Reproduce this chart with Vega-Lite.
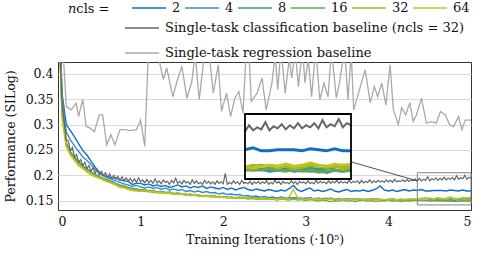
{
  "$schema": "https://vega.github.io/schema/vega-lite/v6.json",
  "width": 413,
  "height": 148,
  "autosize": {"type": "none"},
  "padding": {"left": 58, "top": 62, "right": 9, "bottom": 47},
  "config": {
    "font": "DejaVu Serif",
    "view": {"stroke": "#333333", "strokeWidth": 1},
    "axis": {"domain": false, "ticks": false, "labelFont": "DejaVu Serif", "titleFont": "DejaVu Serif", "labelFontSize": 12.5, "titleFontSize": 12.5, "titleFontWeight": "normal", "labelColor": "#111111", "titleColor": "#111111", "gridColor": "#d9d9d9", "gridWidth": 1},
    "legend": {"labelFont": "DejaVu Serif", "titleFont": "DejaVu Serif", "labelFontSize": 13, "titleFontSize": 13, "titleFontWeight": "normal", "labelColor": "#111111", "titleColor": "#111111", "symbolStrokeWidth": 1.6, "symbolSize": 1156, "labelOffset": 5, "labelLimit": 500}
  },
  "datasets": {
    "runs": [
      {"x":0,"n2":0.60,"n4":0.58,"n8":0.55,"n16":0.54,"n32":0.55,"n64":0.56},
      {"x":0.05,"n2":0.36,"n4":0.35,"n8":0.33,"n16":0.32,"n32":0.32,"n64":0.31},
      {"x":0.1,"n2":0.300,"n4":0.285,"n8":0.265,"n16":0.258,"n32":0.260,"n64":0.256},
      {"x":0.15,"n2":0.288,"n4":0.270,"n8":0.246,"n16":0.243,"n32":0.241,"n64":0.240},
      {"x":0.2,"n2":0.276,"n4":0.258,"n8":0.236,"n16":0.233,"n32":0.231,"n64":0.229},
      {"x":0.25,"n2":0.262,"n4":0.247,"n8":0.227,"n16":0.225,"n32":0.222,"n64":0.219},
      {"x":0.3,"n2":0.249,"n4":0.236,"n8":0.219,"n16":0.217,"n32":0.215,"n64":0.213},
      {"x":0.35,"n2":0.240,"n4":0.229,"n8":0.213,"n16":0.211,"n32":0.208,"n64":0.206},
      {"x":0.4,"n2":0.228,"n4":0.221,"n8":0.207,"n16":0.206,"n32":0.203,"n64":0.201},
      {"x":0.45,"n2":0.216,"n4":0.212,"n8":0.202,"n16":0.201,"n32":0.199,"n64":0.197},
      {"x":0.5,"n2":0.206,"n4":0.204,"n8":0.198,"n16":0.197,"n32":0.196,"n64":0.194},
      {"x":0.55,"n2":0.200,"n4":0.199,"n8":0.194,"n16":0.193,"n32":0.192,"n64":0.190},
      {"x":0.6,"n2":0.197,"n4":0.195,"n8":0.191,"n16":0.190,"n32":0.188,"n64":0.187},
      {"x":0.65,"n2":0.195,"n4":0.192,"n8":0.188,"n16":0.186,"n32":0.185,"n64":0.184},
      {"x":0.7,"n2":0.194,"n4":0.189,"n8":0.184,"n16":0.183,"n32":0.182,"n64":0.180},
      {"x":0.75,"n2":0.191,"n4":0.186,"n8":0.181,"n16":0.180,"n32":0.179,"n64":0.176},
      {"x":0.8,"n2":0.189,"n4":0.183,"n8":0.179,"n16":0.177,"n32":0.176,"n64":0.175},
      {"x":0.85,"n2":0.188,"n4":0.181,"n8":0.176,"n16":0.175,"n32":0.174,"n64":0.172},
      {"x":0.9,"n2":0.182,"n4":0.178,"n8":0.174,"n16":0.173,"n32":0.172,"n64":0.170},
      {"x":0.95,"n2":0.184,"n4":0.180,"n8":0.173,"n16":0.171,"n32":0.171,"n64":0.169},
      {"x":1.0,"n2":0.184,"n4":0.177,"n8":0.171,"n16":0.170,"n32":0.169,"n64":0.168},
      {"x":1.05,"n2":0.181,"n4":0.175,"n8":0.172,"n16":0.168,"n32":0.171,"n64":0.170},
      {"x":1.1,"n2":0.183,"n4":0.177,"n8":0.169,"n16":0.169,"n32":0.168,"n64":0.167},
      {"x":1.15,"n2":0.179,"n4":0.174,"n8":0.170,"n16":0.166,"n32":0.169,"n64":0.168},
      {"x":1.2,"n2":0.181,"n4":0.176,"n8":0.167,"n16":0.167,"n32":0.166,"n64":0.165},
      {"x":1.25,"n2":0.178,"n4":0.172,"n8":0.168,"n16":0.165,"n32":0.167,"n64":0.166},
      {"x":1.3,"n2":0.180,"n4":0.175,"n8":0.166,"n16":0.166,"n32":0.165,"n64":0.164},
      {"x":1.35,"n2":0.176,"n4":0.171,"n8":0.167,"n16":0.164,"n32":0.166,"n64":0.165},
      {"x":1.4,"n2":0.178,"n4":0.173,"n8":0.164,"n16":0.163,"n32":0.164,"n64":0.163},
      {"x":1.45,"n2":0.181,"n4":0.170,"n8":0.165,"n16":0.164,"n32":0.163,"n64":0.162},
      {"x":1.5,"n2":0.177,"n4":0.172,"n8":0.163,"n16":0.162,"n32":0.164,"n64":0.163},
      {"x":1.55,"n2":0.179,"n4":0.168,"n8":0.161,"n16":0.163,"n32":0.162,"n64":0.161},
      {"x":1.6,"n2":0.175,"n4":0.170,"n8":0.163,"n16":0.160,"n32":0.161,"n64":0.160},
      {"x":1.65,"n2":0.178,"n4":0.167,"n8":0.160,"n16":0.161,"n32":0.162,"n64":0.161},
      {"x":1.7,"n2":0.176,"n4":0.169,"n8":0.161,"n16":0.159,"n32":0.160,"n64":0.159},
      {"x":1.75,"n2":0.179,"n4":0.166,"n8":0.159,"n16":0.160,"n32":0.159,"n64":0.158},
      {"x":1.8,"n2":0.174,"n4":0.168,"n8":0.160,"n16":0.158,"n32":0.160,"n64":0.159},
      {"x":1.85,"n2":0.177,"n4":0.165,"n8":0.158,"n16":0.159,"n32":0.158,"n64":0.157},
      {"x":1.9,"n2":0.175,"n4":0.166,"n8":0.159,"n16":0.157,"n32":0.159,"n64":0.158},
      {"x":1.95,"n2":0.173,"n4":0.163,"n8":0.157,"n16":0.158,"n32":0.157,"n64":0.156},
      {"x":2.0,"n2":0.176,"n4":0.165,"n8":0.158,"n16":0.156,"n32":0.158,"n64":0.157},
      {"x":2.05,"n2":0.172,"n4":0.162,"n8":0.156,"n16":0.157,"n32":0.156,"n64":0.155},
      {"x":2.1,"n2":0.175,"n4":0.163,"n8":0.157,"n16":0.155,"n32":0.157,"n64":0.156},
      {"x":2.15,"n2":0.171,"n4":0.161,"n8":0.155,"n16":0.156,"n32":0.155,"n64":0.154},
      {"x":2.2,"n2":0.174,"n4":0.162,"n8":0.157,"n16":0.154,"n32":0.156,"n64":0.155},
      {"x":2.25,"n2":0.176,"n4":0.159,"n8":0.155,"n16":0.155,"n32":0.154,"n64":0.157},
      {"x":2.3,"n2":0.172,"n4":0.160,"n8":0.156,"n16":0.153,"n32":0.156,"n64":0.154},
      {"x":2.35,"n2":0.170,"n4":0.158,"n8":0.154,"n16":0.155,"n32":0.155,"n64":0.153},
      {"x":2.4,"n2":0.173,"n4":0.159,"n8":0.156,"n16":0.153,"n32":0.153,"n64":0.155},
      {"x":2.45,"n2":0.171,"n4":0.157,"n8":0.155,"n16":0.152,"n32":0.155,"n64":0.153},
      {"x":2.5,"n2":0.169,"n4":0.158,"n8":0.154,"n16":0.154,"n32":0.154,"n64":0.152},
      {"x":2.55,"n2":0.172,"n4":0.156,"n8":0.156,"n16":0.152,"n32":0.152,"n64":0.154},
      {"x":2.6,"n2":0.170,"n4":0.157,"n8":0.154,"n16":0.153,"n32":0.154,"n64":0.153},
      {"x":2.65,"n2":0.168,"n4":0.155,"n8":0.155,"n16":0.151,"n32":0.153,"n64":0.152},
      {"x":2.7,"n2":0.171,"n4":0.157,"n8":0.153,"n16":0.153,"n32":0.155,"n64":0.154},
      {"x":2.75,"n2":0.169,"n4":0.155,"n8":0.155,"n16":0.152,"n32":0.153,"n64":0.153},
      {"x":2.8,"n2":0.174,"n4":0.156,"n8":0.154,"n16":0.151,"n32":0.154,"n64":0.158},
      {"x":2.85,"n2":0.180,"n4":0.154,"n8":0.156,"n16":0.153,"n32":0.152,"n64":0.172},
      {"x":2.9,"n2":0.171,"n4":0.156,"n8":0.154,"n16":0.151,"n32":0.154,"n64":0.156},
      {"x":2.95,"n2":0.168,"n4":0.155,"n8":0.153,"n16":0.152,"n32":0.153,"n64":0.153},
      {"x":3.0,"n2":0.172,"n4":0.154,"n8":0.155,"n16":0.150,"n32":0.152,"n64":0.152},
      {"x":3.05,"n2":0.175,"n4":0.156,"n8":0.153,"n16":0.152,"n32":0.154,"n64":0.154},
      {"x":3.1,"n2":0.169,"n4":0.153,"n8":0.154,"n16":0.151,"n32":0.153,"n64":0.152},
      {"x":3.15,"n2":0.171,"n4":0.155,"n8":0.152,"n16":0.149,"n32":0.155,"n64":0.153},
      {"x":3.2,"n2":0.168,"n4":0.154,"n8":0.154,"n16":0.151,"n32":0.153,"n64":0.151},
      {"x":3.25,"n2":0.170,"n4":0.153,"n8":0.155,"n16":0.150,"n32":0.152,"n64":0.153},
      {"x":3.3,"n2":0.173,"n4":0.155,"n8":0.153,"n16":0.148,"n32":0.154,"n64":0.152},
      {"x":3.35,"n2":0.169,"n4":0.153,"n8":0.154,"n16":0.150,"n32":0.152,"n64":0.154},
      {"x":3.4,"n2":0.167,"n4":0.154,"n8":0.152,"n16":0.149,"n32":0.153,"n64":0.152},
      {"x":3.45,"n2":0.170,"n4":0.152,"n8":0.153,"n16":0.151,"n32":0.151,"n64":0.151},
      {"x":3.5,"n2":0.172,"n4":0.154,"n8":0.154,"n16":0.149,"n32":0.153,"n64":0.153},
      {"x":3.55,"n2":0.168,"n4":0.153,"n8":0.152,"n16":0.150,"n32":0.152,"n64":0.152},
      {"x":3.6,"n2":0.170,"n4":0.152,"n8":0.153,"n16":0.148,"n32":0.154,"n64":0.151},
      {"x":3.65,"n2":0.169,"n4":0.154,"n8":0.151,"n16":0.150,"n32":0.152,"n64":0.153},
      {"x":3.7,"n2":0.171,"n4":0.152,"n8":0.153,"n16":0.151,"n32":0.151,"n64":0.152},
      {"x":3.75,"n2":0.168,"n4":0.153,"n8":0.152,"n16":0.149,"n32":0.153,"n64":0.154},
      {"x":3.8,"n2":0.170,"n4":0.151,"n8":0.154,"n16":0.150,"n32":0.152,"n64":0.152},
      {"x":3.85,"n2":0.173,"n4":0.153,"n8":0.152,"n16":0.148,"n32":0.154,"n64":0.151},
      {"x":3.9,"n2":0.179,"n4":0.152,"n8":0.153,"n16":0.150,"n32":0.152,"n64":0.153},
      {"x":3.95,"n2":0.171,"n4":0.151,"n8":0.151,"n16":0.149,"n32":0.151,"n64":0.152},
      {"x":4.0,"n2":0.169,"n4":0.153,"n8":0.152,"n16":0.151,"n32":0.153,"n64":0.151},
      {"x":4.05,"n2":0.171,"n4":0.151,"n8":0.154,"n16":0.149,"n32":0.152,"n64":0.153},
      {"x":4.1,"n2":0.168,"n4":0.152,"n8":0.152,"n16":0.150,"n32":0.151,"n64":0.152},
      {"x":4.15,"n2":0.170,"n4":0.150,"n8":0.153,"n16":0.148,"n32":0.153,"n64":0.151},
      {"x":4.2,"n2":0.172,"n4":0.152,"n8":0.151,"n16":0.150,"n32":0.152,"n64":0.153},
      {"x":4.25,"n2":0.169,"n4":0.151,"n8":0.152,"n16":0.149,"n32":0.154,"n64":0.152},
      {"x":4.3,"n2":0.171,"n4":0.150,"n8":0.153,"n16":0.151,"n32":0.152,"n64":0.154},
      {"x":4.35,"n2":0.170,"n4":0.151,"n8":0.151,"n16":0.150,"n32":0.153,"n64":0.153},
      {"x":4.4,"n2":0.172,"n4":0.150,"n8":0.153,"n16":0.151,"n32":0.155,"n64":0.152},
      {"x":4.45,"n2":0.169,"n4":0.151,"n8":0.155,"n16":0.150,"n32":0.154,"n64":0.154},
      {"x":4.5,"n2":0.169,"n4":0.149,"n8":0.153,"n16":0.152,"n32":0.155,"n64":0.155},
      {"x":4.55,"n2":0.170,"n4":0.150,"n8":0.154,"n16":0.150,"n32":0.153,"n64":0.154},
      {"x":4.6,"n2":0.170,"n4":0.151,"n8":0.152,"n16":0.149,"n32":0.154,"n64":0.156},
      {"x":4.65,"n2":0.170,"n4":0.149,"n8":0.153,"n16":0.151,"n32":0.152,"n64":0.154},
      {"x":4.7,"n2":0.169,"n4":0.150,"n8":0.151,"n16":0.149,"n32":0.153,"n64":0.155},
      {"x":4.75,"n2":0.171,"n4":0.149,"n8":0.152,"n16":0.150,"n32":0.155,"n64":0.157},
      {"x":4.8,"n2":0.170,"n4":0.150,"n8":0.151,"n16":0.148,"n32":0.154,"n64":0.155},
      {"x":4.85,"n2":0.169,"n4":0.148,"n8":0.152,"n16":0.149,"n32":0.153,"n64":0.154},
      {"x":4.9,"n2":0.171,"n4":0.150,"n8":0.153,"n16":0.150,"n32":0.154,"n64":0.156},
      {"x":4.95,"n2":0.169,"n4":0.149,"n8":0.155,"n16":0.149,"n32":0.152,"n64":0.155},
      {"x":5.0,"n2":0.169,"n4":0.150,"n8":0.154,"n16":0.151,"n32":0.153,"n64":0.156}
    ],
    "cls": [
      {"x":0,"v":0.60},{"x":0.025,"v":0.44},{"x":0.05,"v":0.335},{"x":0.075,"v":0.305},{"x":0.1,"v":0.27},
      {"x":0.125,"v":0.268},{"x":0.15,"v":0.248},{"x":0.175,"v":0.255},{"x":0.2,"v":0.236},{"x":0.225,"v":0.241},
      {"x":0.25,"v":0.226},{"x":0.275,"v":0.231},{"x":0.3,"v":0.219},{"x":0.325,"v":0.226},{"x":0.35,"v":0.213},
      {"x":0.375,"v":0.219},{"x":0.4,"v":0.208},{"x":0.425,"v":0.215},{"x":0.45,"v":0.204},{"x":0.475,"v":0.211},
      {"x":0.5,"v":0.201},{"x":0.525,"v":0.208},{"x":0.55,"v":0.199},{"x":0.575,"v":0.205},{"x":0.6,"v":0.196},
      {"x":0.625,"v":0.203},{"x":0.65,"v":0.194},{"x":0.675,"v":0.200},{"x":0.7,"v":0.193},{"x":0.725,"v":0.198},
      {"x":0.75,"v":0.190},{"x":0.775,"v":0.197},{"x":0.8,"v":0.189},{"x":0.825,"v":0.195},{"x":0.85,"v":0.188},
      {"x":0.875,"v":0.194},{"x":0.9,"v":0.187},{"x":0.925,"v":0.193},{"x":0.95,"v":0.186},{"x":0.975,"v":0.195},
      {"x":1.0,"v":0.187},{"x":1.025,"v":0.191},{"x":1.05,"v":0.185},{"x":1.075,"v":0.192},{"x":1.1,"v":0.186},
      {"x":1.125,"v":0.190},{"x":1.15,"v":0.184},{"x":1.175,"v":0.193},{"x":1.2,"v":0.185},{"x":1.225,"v":0.189},
      {"x":1.25,"v":0.183},{"x":1.275,"v":0.191},{"x":1.3,"v":0.186},{"x":1.325,"v":0.188},{"x":1.35,"v":0.182},
      {"x":1.375,"v":0.190},{"x":1.4,"v":0.185},{"x":1.425,"v":0.194},{"x":1.45,"v":0.184},{"x":1.475,"v":0.188},
      {"x":1.5,"v":0.183},{"x":1.525,"v":0.190},{"x":1.55,"v":0.185},{"x":1.575,"v":0.187},{"x":1.6,"v":0.182},
      {"x":1.625,"v":0.191},{"x":1.65,"v":0.184},{"x":1.675,"v":0.189},{"x":1.7,"v":0.183},{"x":1.725,"v":0.186},
      {"x":1.75,"v":0.182},{"x":1.775,"v":0.190},{"x":1.8,"v":0.184},{"x":1.825,"v":0.188},{"x":1.85,"v":0.183},
      {"x":1.875,"v":0.187},{"x":1.9,"v":0.182},{"x":1.925,"v":0.189},{"x":1.95,"v":0.184},{"x":1.975,"v":0.187},
      {"x":2.0,"v":0.183},{"x":2.025,"v":0.204},{"x":2.05,"v":0.182},{"x":2.075,"v":0.186},{"x":2.1,"v":0.183},
      {"x":2.125,"v":0.189},{"x":2.15,"v":0.184},{"x":2.175,"v":0.187},{"x":2.2,"v":0.182},{"x":2.225,"v":0.190},
      {"x":2.25,"v":0.184},{"x":2.275,"v":0.186},{"x":2.3,"v":0.183},{"x":2.325,"v":0.188},{"x":2.35,"v":0.182},
      {"x":2.375,"v":0.187},{"x":2.4,"v":0.184},{"x":2.425,"v":0.188},{"x":2.45,"v":0.183},{"x":2.475,"v":0.187},
      {"x":2.5,"v":0.184},{"x":2.525,"v":0.189},{"x":2.55,"v":0.182},{"x":2.575,"v":0.186},{"x":2.6,"v":0.183},
      {"x":2.625,"v":0.190},{"x":2.65,"v":0.185},{"x":2.675,"v":0.187},{"x":2.7,"v":0.182},{"x":2.725,"v":0.188},
      {"x":2.75,"v":0.184},{"x":2.775,"v":0.186},{"x":2.8,"v":0.183},{"x":2.825,"v":0.189},{"x":2.85,"v":0.184},
      {"x":2.875,"v":0.187},{"x":2.9,"v":0.182},{"x":2.925,"v":0.188},{"x":2.95,"v":0.185},{"x":2.975,"v":0.187},
      {"x":3.0,"v":0.183},{"x":3.025,"v":0.189},{"x":3.05,"v":0.184},{"x":3.075,"v":0.186},{"x":3.1,"v":0.183},
      {"x":3.125,"v":0.190},{"x":3.15,"v":0.184},{"x":3.175,"v":0.188},{"x":3.2,"v":0.185},{"x":3.225,"v":0.187},
      {"x":3.25,"v":0.183},{"x":3.275,"v":0.189},{"x":3.3,"v":0.184},{"x":3.325,"v":0.188},{"x":3.35,"v":0.185},
      {"x":3.375,"v":0.190},{"x":3.4,"v":0.184},{"x":3.425,"v":0.188},{"x":3.45,"v":0.185},{"x":3.475,"v":0.187},
      {"x":3.5,"v":0.184},{"x":3.525,"v":0.190},{"x":3.55,"v":0.185},{"x":3.575,"v":0.188},{"x":3.6,"v":0.186},
      {"x":3.625,"v":0.189},{"x":3.65,"v":0.184},{"x":3.675,"v":0.190},{"x":3.7,"v":0.185},{"x":3.725,"v":0.188},
      {"x":3.75,"v":0.186},{"x":3.775,"v":0.191},{"x":3.8,"v":0.185},{"x":3.825,"v":0.189},{"x":3.85,"v":0.186},
      {"x":3.875,"v":0.190},{"x":3.9,"v":0.187},{"x":3.925,"v":0.189},{"x":3.95,"v":0.186},{"x":3.975,"v":0.191},
      {"x":4.0,"v":0.187},{"x":4.025,"v":0.190},{"x":4.05,"v":0.186},{"x":4.075,"v":0.192},{"x":4.1,"v":0.187},
      {"x":4.125,"v":0.189},{"x":4.15,"v":0.188},{"x":4.175,"v":0.191},{"x":4.2,"v":0.187},{"x":4.225,"v":0.192},
      {"x":4.25,"v":0.188},{"x":4.275,"v":0.191},{"x":4.3,"v":0.189},{"x":4.325,"v":0.193},{"x":4.35,"v":0.188},
      {"x":4.375,"v":0.194},{"x":4.4,"v":0.189},{"x":4.425,"v":0.192},{"x":4.45,"v":0.190},{"x":4.475,"v":0.197},
      {"x":4.5,"v":0.189},{"x":4.525,"v":0.193},{"x":4.55,"v":0.191},{"x":4.575,"v":0.195},{"x":4.6,"v":0.190},
      {"x":4.625,"v":0.194},{"x":4.65,"v":0.191},{"x":4.675,"v":0.196},{"x":4.7,"v":0.191},{"x":4.725,"v":0.194},
      {"x":4.75,"v":0.192},{"x":4.775,"v":0.196},{"x":4.8,"v":0.191},{"x":4.825,"v":0.199},{"x":4.85,"v":0.192},
      {"x":4.875,"v":0.195},{"x":4.9,"v":0.193},{"x":4.925,"v":0.200},{"x":4.95,"v":0.192},{"x":4.975,"v":0.196},
      {"x":5.0,"v":0.194}
    ],
    "reg": [
      {"x":0,"v":0.9},{"x":0.05,"v":0.48},{"x":0.1,"v":0.336},{"x":0.16,"v":0.329},{"x":0.22,"v":0.342},
      {"x":0.25,"v":0.316},{"x":0.3,"v":0.35},{"x":0.34,"v":0.296},{"x":0.39,"v":0.293},{"x":0.44,"v":0.286},
      {"x":0.5,"v":0.319},{"x":0.54,"v":0.319},{"x":0.59,"v":0.26},{"x":0.64,"v":0.28},{"x":0.69,"v":0.26},
      {"x":0.75,"v":0.29},{"x":0.81,"v":0.29},{"x":0.87,"v":0.288},{"x":0.95,"v":0.29},{"x":1.0,"v":0.309},
      {"x":1.05,"v":0.257},{"x":1.1,"v":0.47},{"x":1.18,"v":0.46},{"x":1.275,"v":0.389},{"x":1.316,"v":0.412},
      {"x":1.39,"v":0.355},{"x":1.44,"v":0.385},{"x":1.5,"v":0.415},{"x":1.56,"v":0.352},{"x":1.62,"v":0.385},
      {"x":1.66,"v":0.44},{"x":1.71,"v":0.349},{"x":1.78,"v":0.45},{"x":1.83,"v":0.44},{"x":1.88,"v":0.362},
      {"x":1.94,"v":0.418},{"x":1.98,"v":0.326},{"x":2.04,"v":0.362},{"x":2.09,"v":0.316},{"x":2.14,"v":0.352},
      {"x":2.19,"v":0.365},{"x":2.24,"v":0.323},{"x":2.28,"v":0.45},{"x":2.31,"v":0.45},{"x":2.34,"v":0.346},
      {"x":2.41,"v":0.362},{"x":2.47,"v":0.392},{"x":2.52,"v":0.329},{"x":2.59,"v":0.382},{"x":2.63,"v":0.44},
      {"x":2.66,"v":0.369},{"x":2.7,"v":0.45},{"x":2.75,"v":0.362},{"x":2.8,"v":0.43},{"x":2.83,"v":0.392},
      {"x":2.87,"v":0.45},{"x":2.91,"v":0.375},{"x":2.96,"v":0.45},{"x":2.99,"v":0.382},{"x":3.03,"v":0.43},
      {"x":3.07,"v":0.355},{"x":3.12,"v":0.45},{"x":3.17,"v":0.349},{"x":3.22,"v":0.382},{"x":3.27,"v":0.355},
      {"x":3.31,"v":0.45},{"x":3.37,"v":0.352},{"x":3.41,"v":0.385},{"x":3.47,"v":0.45},{"x":3.51,"v":0.349},
      {"x":3.55,"v":0.44},{"x":3.58,"v":0.329},{"x":3.66,"v":0.375},{"x":3.72,"v":0.408},{"x":3.78,"v":0.343},
      {"x":3.83,"v":0.375},{"x":3.87,"v":0.355},{"x":3.92,"v":0.382},{"x":3.97,"v":0.339},{"x":4.02,"v":0.418},
      {"x":4.06,"v":0.329},{"x":4.12,"v":0.3},{"x":4.16,"v":0.333},{"x":4.21,"v":0.319},{"x":4.26,"v":0.343},
      {"x":4.3,"v":0.306},{"x":4.34,"v":0.319},{"x":4.4,"v":0.352},{"x":4.46,"v":0.303},{"x":4.52,"v":0.306},
      {"x":4.58,"v":0.303},{"x":4.63,"v":0.326},{"x":4.69,"v":0.319},{"x":4.74,"v":0.3},{"x":4.79,"v":0.296},
      {"x":4.85,"v":0.316},{"x":4.89,"v":0.29},{"x":4.93,"v":0.309},{"x":5.0,"v":0.309}
    ]
  },
  "layer": [
    {
      "data": {"name": "reg"},
      "mark": {"type": "line", "clip": true, "strokeWidth": 1.3},
      "encoding": {
        "x": {"field": "x", "type": "quantitative", "scale": {"domain": [0, 5], "nice": false, "zero": false},
              "axis": {"values": [0, 1, 2, 3, 4, 5], "format": "d", "title": "Training Iterations (·10⁵)", "grid": false, "labelPadding": 5, "titlePadding": 6}},
        "y": {"field": "v", "type": "quantitative", "scale": {"domain": [0.1315, 0.4235], "nice": false, "zero": false},
              "axis": {"values": [0.15, 0.2, 0.25, 0.3, 0.35, 0.4], "format": "~g", "title": "Performance (SILog)", "grid": true, "labelPadding": 5, "titlePadding": 8}},
        "stroke": {"datum": "Single-task regression baseline", "type": "nominal",
                   "scale": {"domain": ["Single-task classification baseline (𝑛cls = 32)", "Single-task regression baseline"], "range": ["#666666", "#a9a9a9"]},
                   "legend": {"orient": "none", "legendX": 66, "legendY": -52, "direction": "vertical", "title": null, "rowPadding": -14}}
      }
    },
    {
      "data": {"name": "runs"},
      "transform": [{"fold": ["n2", "n4", "n8", "n16", "n32", "n64"], "as": ["n", "v"]}],
      "mark": {"type": "line", "clip": true, "strokeWidth": 1.4},
      "encoding": {
        "x": {"field": "x", "type": "quantitative", "scale": {"domain": [0, 5], "nice": false, "zero": false}, "axis": null},
        "y": {"field": "v", "type": "quantitative", "scale": {"domain": [0.1315, 0.4235], "nice": false, "zero": false}, "axis": null},
        "color": {"field": "n", "type": "nominal",
                  "scale": {"domain": ["n2", "n4", "n8", "n16", "n32", "n64"], "range": ["#0e6fc4", "#3a8dc6", "#3a9a8a", "#6aa84f", "#a6b62a", "#c4c21c"]},
                  "legend": {"orient": "none", "legendX": 10, "legendY": -72, "direction": "horizontal", "title": "𝑛cls =", "titleOrient": "left", "titleAnchor": "middle", "titleBaseline": "top", "titlePadding": 21, "columnPadding": 0, "labelExpr": "replace(datum.label, 'n', '')"}}
      }
    },
    {
      "data": {"name": "cls"},
      "mark": {"type": "line", "clip": true, "strokeWidth": 1.2},
      "encoding": {
        "x": {"field": "x", "type": "quantitative", "scale": {"domain": [0, 5], "nice": false, "zero": false}, "axis": null},
        "y": {"field": "v", "type": "quantitative", "scale": {"domain": [0.1315, 0.4235], "nice": false, "zero": false}, "axis": null},
        "stroke": {"datum": "Single-task classification baseline (𝑛cls = 32)", "type": "nominal",
                   "scale": {"domain": ["Single-task classification baseline (𝑛cls = 32)", "Single-task regression baseline"], "range": ["#666666", "#a9a9a9"]},
                   "legend": {"orient": "none", "legendX": 66, "legendY": -52, "direction": "vertical", "title": null, "rowPadding": -14}}
      }
    },
    {
      "data": {"values": [{}]},
      "mark": {"type": "rect", "fill": null, "fillOpacity": 0, "stroke": "#808080", "strokeWidth": 1},
      "encoding": {
        "x": {"datum": 4.35, "type": "quantitative", "scale": {"domain": [0, 5], "nice": false, "zero": false}, "axis": null},
        "x2": {"datum": 5},
        "y": {"datum": 0.1415, "type": "quantitative", "scale": {"domain": [0.1315, 0.4235], "nice": false, "zero": false}, "axis": null},
        "y2": {"datum": 0.205}
      }
    },
    {
      "data": {"values": [{}]},
      "mark": {"type": "rule", "color": "#222222", "strokeWidth": 0.8},
      "encoding": {
        "x": {"datum": 3.547, "type": "quantitative", "scale": {"domain": [0, 5], "nice": false, "zero": false}, "axis": null},
        "x2": {"datum": 4.35},
        "y": {"datum": 0.2265, "type": "quantitative", "scale": {"domain": [0.1315, 0.4235], "nice": false, "zero": false}, "axis": null},
        "y2": {"datum": 0.189}
      }
    },
    {
      "data": {"values": [{}]},
      "mark": {"type": "rect", "fill": "white", "stroke": null},
      "encoding": {
        "x": {"datum": 4.35, "type": "quantitative", "scale": {"domain": [4.35, 5], "range": [187, 293], "nice": false, "zero": false}, "axis": null},
        "x2": {"datum": 5},
        "y": {"datum": 0.1415, "type": "quantitative", "scale": {"domain": [0.1415, 0.205], "range": [117, 52], "nice": false, "zero": false, "clamp": true}, "axis": null},
        "y2": {"datum": 0.205}
      }
    },
    {
      "data": {"name": "cls"},
      "transform": [{"filter": "datum.x >= 4.35"}],
      "mark": {"type": "line", "color": "#666666", "strokeWidth": 2},
      "encoding": {
        "x": {"field": "x", "type": "quantitative", "scale": {"domain": [4.35, 5], "range": [187, 293], "nice": false, "zero": false}, "axis": null},
        "y": {"field": "v", "type": "quantitative", "scale": {"domain": [0.1415, 0.205], "range": [117, 52], "nice": false, "zero": false, "clamp": true}, "axis": null}
      }
    },
    {
      "data": {"name": "runs"},
      "transform": [{"filter": "datum.x >= 4.35"}, {"fold": ["n2", "n4", "n8", "n16", "n32", "n64"], "as": ["n", "v"]}],
      "mark": {"type": "line", "strokeWidth": 3},
      "encoding": {
        "x": {"field": "x", "type": "quantitative", "scale": {"domain": [4.35, 5], "range": [187, 293], "nice": false, "zero": false}, "axis": null},
        "y": {"field": "v", "type": "quantitative", "scale": {"domain": [0.1415, 0.205], "range": [117, 52], "nice": false, "zero": false, "clamp": true}, "axis": null},
        "color": {"field": "n", "type": "nominal", "legend": null}
      }
    },
    {
      "data": {"values": [{}]},
      "mark": {"type": "rect", "fill": null, "fillOpacity": 0, "stroke": "#000000", "strokeWidth": 1.8},
      "encoding": {
        "x": {"datum": 4.35, "type": "quantitative", "scale": {"domain": [4.35, 5], "range": [187, 293], "nice": false, "zero": false}, "axis": null},
        "x2": {"datum": 5},
        "y": {"datum": 0.1415, "type": "quantitative", "scale": {"domain": [0.1415, 0.205], "range": [117, 52], "nice": false, "zero": false, "clamp": true}, "axis": null},
        "y2": {"datum": 0.205}
      }
    }
  ],
  "resolve": {"scale": {"x": "independent", "y": "independent"}}
}
